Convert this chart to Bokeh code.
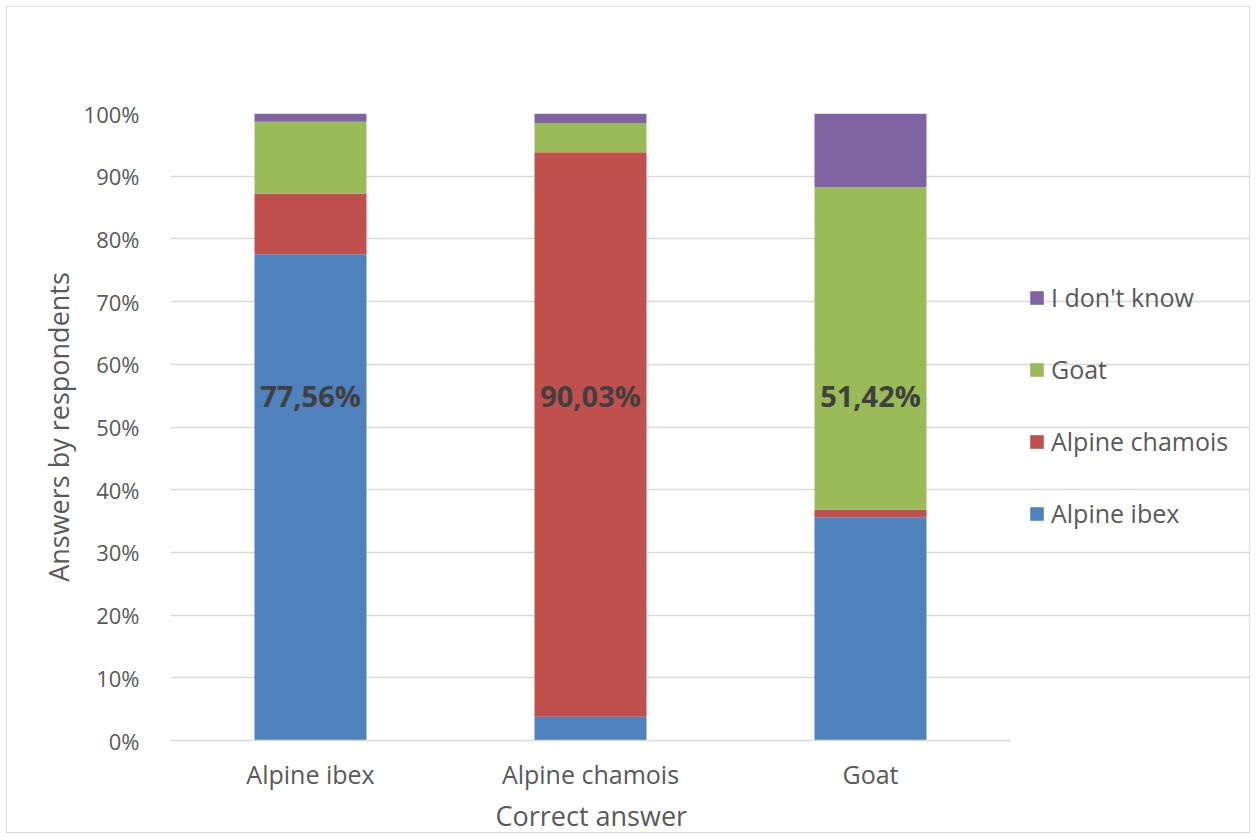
from bokeh.plotting import figure
from bokeh.models import ColumnDataSource, Range1d, Legend, LegendItem, PrintfTickFormatter, FixedTicker, Title
from bokeh.core.properties import value
from bokeh.embed import file_html
from bokeh.resources import INLINE

# ---- data (percent of respondents) ----
categories = ["Alpine ibex", "Alpine chamois", "Goat"]
series_names = ["Alpine ibex", "Alpine chamois", "Goat", "I don't know"]
ans_ibex = [77.56, 3.80, 35.60]
ans_chamois = [9.69, 90.03, 1.20]
ans_goat = [11.42, 4.65, 51.42]
ans_dontknow = [1.33, 1.52, 11.78]
correct_share = [77.56, 90.03, 51.42]
y_ticks = [0, 10, 20, 30, 40, 50, 60, 70, 80, 90, 100]

colors = ["#4F81BD", "#C0504D", "#9BBB59", "#8064A2"]
FONT = "Open Sans"
TXT = "#595959"
LABEL_Y = 55  # fixed vertical position of the data labels (layout)

# category slots on a numeric axis (slot i centred at i + 0.5)
xpos = [i + 0.5 for i in range(len(categories))]
n = len(categories)
PLOT_W = 840       # px used by the category slots
FRAME_W = 1081     # px of the whole frame (room on the right for the legend)

keys = ["s0", "s1", "s2", "s3"]
src = ColumnDataSource(dict(x=xpos, s0=ans_ibex, s1=ans_chamois, s2=ans_goat, s3=ans_dontknow))

p = figure(x_range=Range1d(0, n * FRAME_W / PLOT_W), y_range=Range1d(0, 100), width=1244, height=827,
           output_backend="svg", toolbar_location=None,
           min_border_left=163, min_border_right=0, min_border_top=106, min_border_bottom=94)
p.margin = (6, 0, 0, 6)
p.styles = {"border": "1px solid #d9d9d9"}
p.outline_line_color = None
p.background_fill_color = "white"
p.border_fill_color = "white"

renderers = p.vbar_stack(keys, x="x", width=0.4, color=colors, line_color=None, source=src)

labels = [f"{v:.2f}%".replace(".", ",") for v in correct_share]
p.text(x=xpos, y=[LABEL_Y] * n, text=labels, text_align="center",
       text_baseline="middle", text_font=value(FONT), text_font_style="bold",
       text_font_size="29px", text_color="#404040")

# axes
p.xgrid.grid_line_color = None
p.ygrid.grid_line_color = "#d9d9d9"
p.ygrid.grid_line_width = 1.5
p.ygrid.bounds = (0, n)
p.yaxis.ticker = FixedTicker(ticks=y_ticks)
p.yaxis.formatter = PrintfTickFormatter(format="%d%%")
p.xaxis.ticker = FixedTicker(ticks=xpos)
p.xaxis.major_label_overrides = {x: c for x, c in zip(xpos, categories)}
p.xaxis.bounds = (0, n)
for ax in (p.xaxis[0], p.yaxis[0]):
    ax.major_tick_line_color = None
    ax.minor_tick_line_color = None
    ax.major_label_text_font = FONT
    ax.major_label_text_color = TXT
    ax.axis_label_text_font = FONT
    ax.axis_label_text_font_size = "27px"
    ax.axis_label_text_color = TXT
    ax.axis_label_text_font_style = "normal"
p.yaxis.major_label_text_font_size = "22px"
p.xaxis.major_label_text_font_size = "25px"
p.yaxis.axis_line_color = None
p.xaxis.axis_line_color = "#d9d9d9"
p.xaxis.axis_line_width = 1.5
p.yaxis.major_label_standoff = 25
p.xaxis.major_label_standoff = 10
p.yaxis.axis_label = "Answers by respondents"
p.yaxis.axis_label_standoff = 4

# x-axis title, centred under the category slots (not under the legend area)
x_title = Title(text="Correct answer", align="left", offset=325, standoff=2,
                text_font=FONT, text_font_size="27px", text_font_style="normal", text_color=TXT)
p.add_layout(x_title, "below")

items = [LegendItem(label=series_names[i], renderers=[renderers[i]]) for i in range(3, -1, -1)]
legend = Legend(items=items, location=(858, 210), orientation="vertical",
                glyph_width=17, glyph_height=17, label_standoff=6, spacing=38,
                label_text_font=FONT, label_text_font_size="25px", label_text_color=TXT,
                border_line_color=None, background_fill_alpha=0, padding=0, margin=0)
p.add_layout(legend)

open("out.html", "w").write(file_html(p, INLINE))
